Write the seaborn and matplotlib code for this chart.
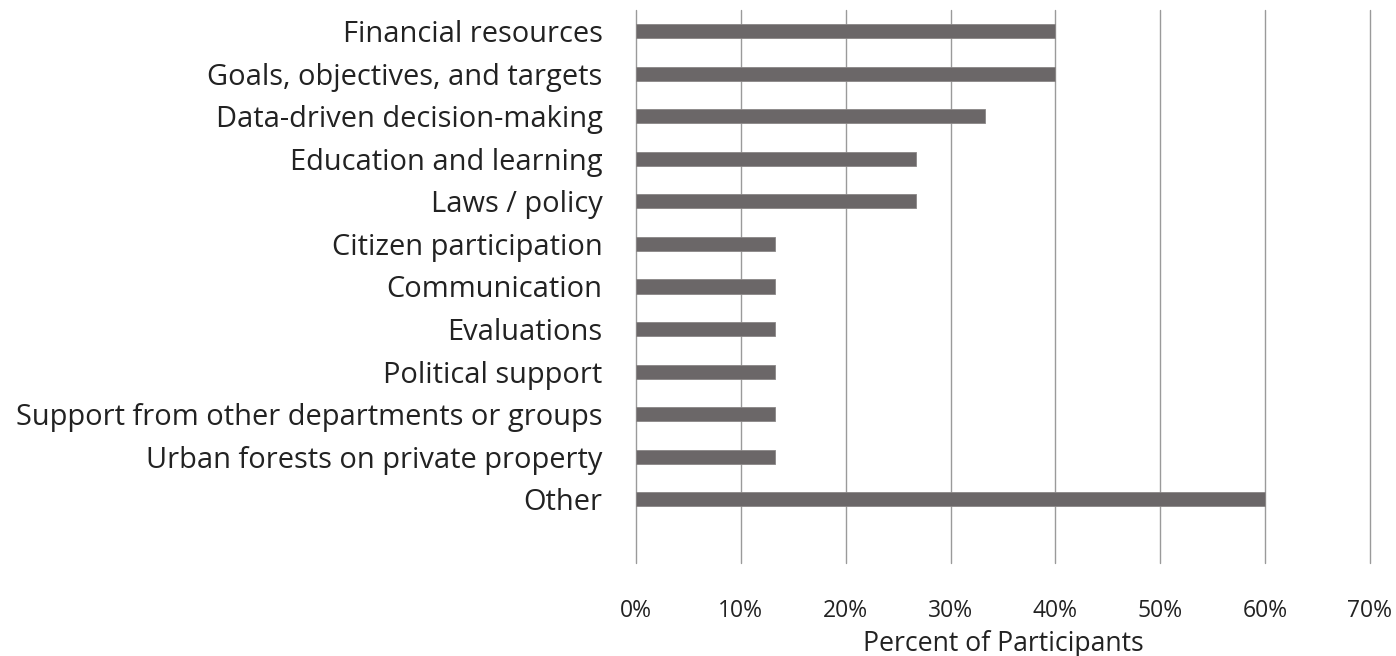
import matplotlib
matplotlib.use("Agg")
import matplotlib.pyplot as plt
import seaborn as sns
import pandas as pd
from matplotlib.ticker import PercentFormatter

categories = [
    "Financial resources",
    "Goals, objectives, and targets",
    "Data-driven decision-making",
    "Education and learning",
    "Laws / policy",
    "Citizen participation",
    "Communication",
    "Evaluations",
    "Political support",
    "Support from other departments or groups",
    "Urban forests on private property",
    "Other",
]
values = [40.0, 40.0, 33.3, 26.7, 26.7, 13.3, 13.3, 13.3, 13.3, 13.3, 13.3, 60.0]
xticks = [0, 10, 20, 30, 40, 50, 60, 70]

df = pd.DataFrame({"category": categories, "value": values})

sns.set_style("white")
plt.rcParams["font.family"] = ["Open Sans", "DejaVu Sans"]

fig = plt.figure(figsize=(13.96, 6.56), dpi=100)
ax = fig.add_axes([636 / 1396, 1 - 563 / 656, (1370 - 636) / 1396, (563 - 10) / 656])

sns.barplot(data=df, x="value", y="category", ax=ax, color="#6b6768",
            width=0.33, saturation=1, edgecolor="#8a8686", linewidth=0.6, zorder=3)

ax.set_xlim(0, 70)
ax.set_ylim(12.5, -0.5)
ax.set_xticks(xticks)
ax.xaxis.set_major_formatter(PercentFormatter(decimals=0))
ax.grid(axis="x", color="#9a9a9a", linewidth=1.0, zorder=0)
ax.grid(axis="y", visible=False)
for gl in ax.get_xgridlines():
    gl.set_clip_on(False)
for s in ax.spines.values():
    s.set_visible(False)
ax.tick_params(axis="y", length=0, pad=24, labelsize=20.9, labelcolor="#222222")
ax.tick_params(axis="x", length=0, pad=26, labelsize=16.5, labelcolor="#222222")
ax.set_ylabel("")
ax.set_xlabel("Percent of Participants", fontsize=19.2, color="#222222", labelpad=5)

fig.savefig("out.png", dpi=100)
